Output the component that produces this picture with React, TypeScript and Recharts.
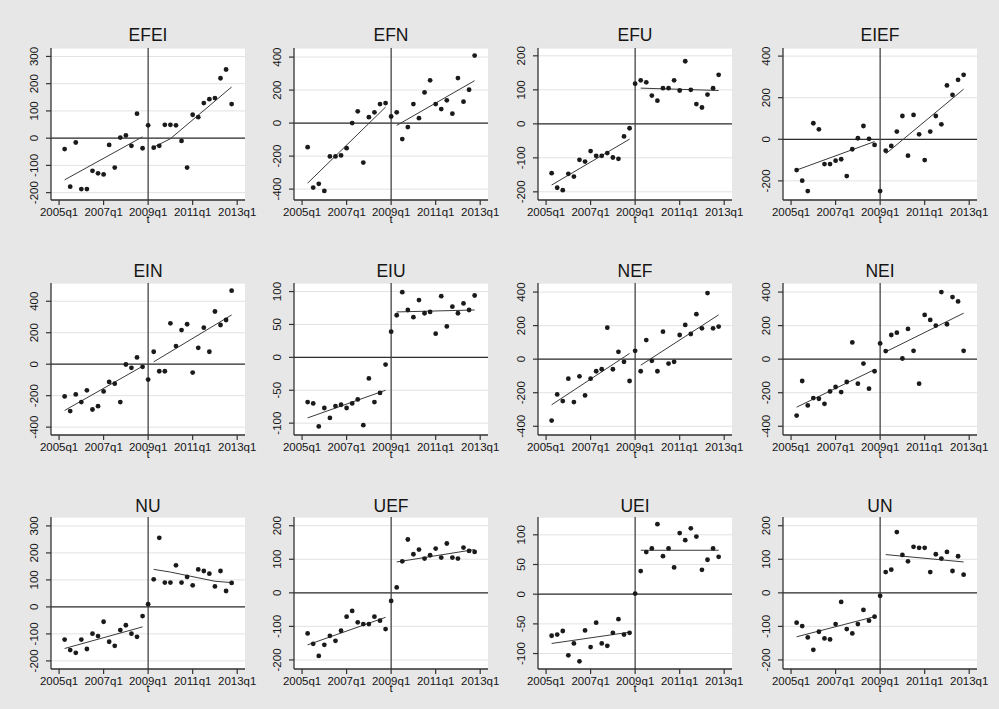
import {
  CartesianGrid,
  ComposedChart,
  Line,
  ReferenceLine,
  Scatter,
  XAxis,
  YAxis,
} from "recharts";

// quarterly series, first value is 2005q2 (t = 1 with 2005q1 = 0), last is 2012q4
const EFEI = [-40, -178, -16, -187, -187, -120, -129, -133, -25, -108, 2, 10, -28, 90, -37, 47, -35, -28, 49, 49, 47, -10, -108, 86, 77, 129, 143, 147, 220, 252, 125];
const EFN = [-146, -391, -368, -411, -202, -202, -196, -152, 0, 71, -239, 36, 65, 115, 121, 40, 65, -97, -24, 115, 30, 186, 259, 115, 85, 138, 57, 273, 130, 202, 409];
const EFU = [-145, -188, -195, -147, -155, -106, -111, -80, -94, -94, -86, -99, -103, -37, -13, 118, 128, 122, 83, 68, 105, 105, 128, 98, 184, 100, 58, 48, 86, 105, 144];
const EIEF = [-148, -199, -249, 77, 48, -119, -119, -103, -96, -177, -48, 5, 64, 2, -27, -249, -55, -32, 37, 112, -79, 117, 24, -100, 37, 112, 72, 259, 214, 286, 310];
const EIN = [-205, -298, -192, -241, -166, -288, -267, -173, -113, -124, -241, -2, -23, 43, -17, -98, 79, -45, -45, 260, 115, 217, 254, -53, 104, 232, 79, 335, 249, 281, 467];
const EIU = [-68, -70, -105, -77, -92, -74, -72, -77, -70, -64, -103, -32, -68, -54, -11, 39, 64, 99, 72, 61, 87, 67, 69, 36, 93, 47, 77, 67, 82, 72, 94];
const NEF = [-366, -210, -250, -116, -256, -102, -216, -116, -72, -60, 188, -60, 44, -16, -130, 50, -72, 114, -10, -72, 164, -26, -16, 144, 204, 150, 268, 184, 394, 184, 194];
const NEI = [-336, -130, -276, -232, -236, -266, -192, -166, -196, -136, 100, -146, -26, -176, -72, 94, 48, 144, 158, 4, 180, 50, -146, 264, 234, 200, 400, 208, 370, 344, 50];
const NU = [-121, -160, -170, -121, -156, -99, -108, -55, -129, -144, -86, -68, -99, -111, -34, 10, 102, 256, 90, 90, 154, 90, 111, 80, 139, 133, 123, 76, 133, 59, 89];
const UEF = [-121, -152, -188, -155, -128, -143, -113, -71, -54, -88, -93, -93, -71, -83, -108, -24, 16, 94, 159, 115, 129, 102, 112, 132, 105, 147, 105, 102, 135, 125, 122];
const UEI = [-70, -68, -62, -103, -83, -113, -61, -89, -48, -83, -87, -65, -42, -68, -65, 1, 39, 71, 77, 118, 64, 77, 45, 103, 91, 111, 97, 41, 58, 77, 63];
const UN = [-89, -99, -133, -170, -116, -136, -139, -93, -27, -108, -121, -93, -51, -83, -71, -9, 62, 69, 181, 113, 94, 137, 134, 134, 62, 115, 102, 122, 65, 109, 54];

// fitted lines before and after 2009q1, [t, value]
const FIT_PRE: Record<string, number[][]> = {
  EFEI: [[1, -153], [15, 5]],
  EFN: [[1, -364], [15, 97]],
  EFU: [[1, -180], [15, -45]],
  EIEF: [[1, -148], [15, -11]],
  EIN: [[1, -294], [15, -13]],
  EIU: [[1, -92], [15, -50]],
  NEF: [[1, -272], [15, 34]],
  NEI: [[1, -286], [15, -62]],
  NU: [[1, -154], [15, -74]],
  UEF: [[1, -155], [15, -73]],
  UEI: [[1, -83], [15, -64]],
  UN: [[1, -131], [15, -71]],
};
const FIT_POST: Record<string, number[][]> = {
  EFEI: [[17, -33], [20, -2], [31, 188]],
  EFN: [[17, -14], [31, 257]],
  EFU: [[17, 105], [31, 98]],
  EIEF: [[17, -70], [31, 241]],
  EIN: [[17, 15], [31, 313]],
  EIU: [[17, 69], [31, 72]],
  NEF: [[17, -36], [31, 264]],
  NEI: [[17, 44], [31, 274]],
  NU: [[17, 139], [20, 129], [28, 95], [31, 90]],
  UEF: [[17, 92], [31, 129]],
  UEI: [[17, 74], [31, 74]],
  UN: [[17, 114], [31, 92]],
};

const Y_TICKS: Record<string, number[]> = {
  EFEI: [-200, -100, 0, 100, 200, 300],
  EFN: [-400, -200, 0, 200, 400],
  EFU: [-200, -100, 0, 100, 200],
  EIEF: [-200, 0, 200, 400],
  EIN: [-400, -200, 0, 200, 400],
  EIU: [-100, -50, 0, 50, 100],
  NEF: [-400, -200, 0, 200, 400],
  NEI: [-400, -200, 0, 200, 400],
  NU: [-200, -100, 0, 100, 200, 300],
  UEF: [-200, -100, 0, 100, 200],
  UEI: [-100, -50, 0, 50, 100],
  UN: [-200, -100, 0, 100, 200],
};
const Y_DOMAIN: Record<string, number[]> = {
  EFEI: [-227, 331],
  EFN: [-466, 455],
  EFU: [-224, 223],
  EIEF: [-292, 439],
  EIN: [-450, 516],
  EIU: [-118, 113],
  NEF: [-452, 454],
  NEI: [-452, 454],
  NU: [-230, 333],
  UEF: [-227, 226],
  UEI: [-126, 130],
  UN: [-227, 226],
};

const X_TICKS = [0, 8, 16, 24, 32];
const X_LABELS = ["2005q1", "2007q1", "2009q1", "2011q1", "2013q1"];
const BREAK_T = 16;

const PANELS: [string, number[]][] = [
  ["EFEI", EFEI], ["EFN", EFN], ["EFU", EFU], ["EIEF", EIEF],
  ["EIN", EIN], ["EIU", EIU], ["NEF", NEF], ["NEI", NEI],
  ["NU", NU], ["UEF", UEF], ["UEI", UEI], ["UN", UN],
];

const COL_LEFT = [51, 294, 538, 783];
const ROW_TOP = [48, 283, 517];
const TITLE_BASE = [42, 278, 513];
const PLOT_W = 194;
const PLOT_H = 152;
const Y_AXIS_W = 45;
const X_AXIS_H = 30;
const TOP = 5;
const RIGHT = 20;
const FONT = "'Liberation Sans', Arial, sans-serif";
const INK = "#151515";

function XTick({ x, y, payload }: any) {
  const label = X_LABELS[X_TICKS.indexOf(payload.value)];
  return (
    <text x={x} y={y} dy={9} textAnchor="middle" fontSize={11.5} fill={INK} fontFamily={FONT}>
      {label}
    </text>
  );
}

function YTick({ x, y, payload }: any) {
  const bx = x - 6;
  return (
    <text
      x={bx}
      y={y}
      transform={`rotate(-90 ${bx} ${y})`}
      textAnchor="middle"
      fontSize={11.5}
      fill={INK}
      fontFamily={FONT}
    >
      {payload.value}
    </text>
  );
}

const dot = (p: any) => <circle cx={p.cx} cy={p.cy} r={2.4} fill="#1a1a1a" />;

function Panel({ name, values, row, col }: { name: string; values: number[]; row: number; col: number }) {
  const points = values.map((v, i) => ({ t: i + 1, v }));
  const pre = FIT_PRE[name].map(([t, v]) => ({ t, v }));
  const post = FIT_POST[name].map(([t, v]) => ({ t, v }));
  const left = COL_LEFT[col];
  const top = ROW_TOP[row];
  return (
    <>
      <div
        style={{
          position: "absolute",
          left,
          top: TITLE_BASE[row] - 14.8,
          width: PLOT_W,
          textAlign: "center",
          fontSize: 17.5,
          lineHeight: "17.5px",
          color: INK,
          fontFamily: FONT,
        }}
      >
        {name}
      </div>
      <div style={{ position: "absolute", left: left - Y_AXIS_W, top: top - TOP }}>
        <ComposedChart
          width={Y_AXIS_W + PLOT_W + RIGHT}
          height={TOP + PLOT_H + X_AXIS_H}
          margin={{ top: TOP, right: RIGHT, bottom: 0, left: 0 }}
          style={{ overflow: "visible" }}
        >
          <CartesianGrid horizontal vertical={false} fill="#ffffff" stroke="#e2e2e2" strokeWidth={1} />
          <XAxis
            type="number"
            dataKey="t"
            domain={[-1.45, 33.4]}
            ticks={X_TICKS}
            tick={<XTick />}
            tickSize={5}
            height={X_AXIS_H}
            axisLine={{ stroke: "#333", strokeWidth: 1.3 }}
            tickLine={{ stroke: "#333", strokeWidth: 1.2 }}
            label={{ value: "t", position: "insideBottom", offset: 7, fill: INK, fontSize: 11.5, fontFamily: FONT }}
          />
          <YAxis
            type="number"
            dataKey="v"
            domain={Y_DOMAIN[name]}
            ticks={Y_TICKS[name]}
            tick={<YTick />}
            tickSize={5}
            width={Y_AXIS_W}
            allowDataOverflow
            axisLine={{ stroke: "#333", strokeWidth: 1.3 }}
            tickLine={{ stroke: "#333", strokeWidth: 1.2 }}
          />
          <ReferenceLine y={0} stroke="#2e2e2e" strokeWidth={1.3} />
          <ReferenceLine x={BREAK_T} stroke="#444" strokeWidth={1.3} />
          <Line data={pre} dataKey="v" type="linear" dot={false} stroke="#3a3a3a" strokeWidth={1} isAnimationActive={false} />
          <Line data={post} dataKey="v" type="linear" dot={false} stroke="#3a3a3a" strokeWidth={1} isAnimationActive={false} />
          <Scatter data={points} dataKey="v" shape={dot} isAnimationActive={false} />
        </ComposedChart>
      </div>
    </>
  );
}

export default function App() {
  return (
    <div
      style={{
        position: "absolute",
        left: 0,
        top: 0,
        width: 999,
        height: 709,
        background: "#e7e7e7",
        fontFamily: FONT,
        overflow: "hidden",
      }}
    >
      {PANELS.map(([name, values], i) => (
        <Panel key={name} name={name} values={values} row={Math.floor(i / 4)} col={i % 4} />
      ))}
    </div>
  );
}
